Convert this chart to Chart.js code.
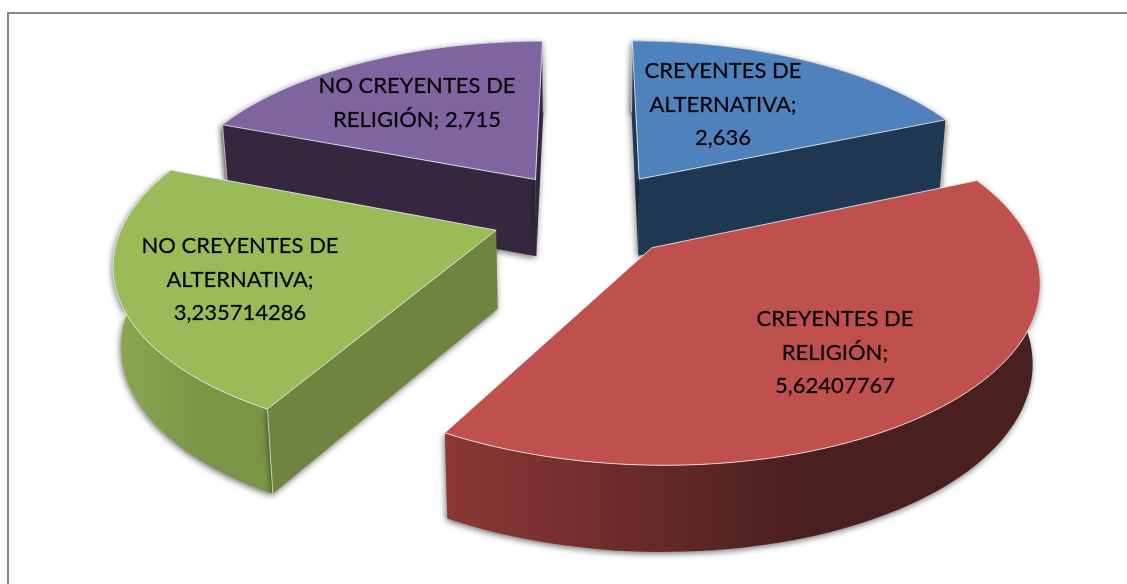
<!DOCTYPE html>
<html lang="es">
<head>
<meta charset="utf-8">
<title>Creyentes</title>
<script src="https://cdn.jsdelivr.net/npm/chart.js@4"></script>
<style>
    html, body { margin: 0; padding: 0; background: #fff; overflow: hidden; }
    #wrap { position: relative; width: 1127px; height: 584px; }
    #frame { position: absolute; left: 7px; top: 12px; width: 1130px; height: 580px; border: 2px solid #868686; box-sizing: border-box; }
    #pie3d { position: absolute; left: 0; top: 0; }
</style>
</head>
<body>
<div id="wrap">
    <div id="frame"></div>
    <canvas id="pie3d" width="1127" height="584"></canvas>
</div>
<script>
// datos del gráfico
const categories = ['CREYENTES DE ALTERNATIVA', 'CREYENTES DE RELIGIÓN', 'NO CREYENTES DE ALTERNATIVA', 'NO CREYENTES DE RELIGIÓN'];
const values = [2.636, 5.62407767, 3.235714286, 2.715];
const topColors = ['#4f81bd', '#c0504d', '#9bbb59', '#8064a2'];
const cutColors = ['#203751', '#4a1f1f', '#6e843f', '#35273f'];
const wallLeft = ['#203751', '#8c3836', '#8aa84f', '#35273f'];
const wallRight = ['#203751', '#4a1f1f', '#7a9546', '#35273f'];

// saltos de línea de cada etiqueta y su centro en pantalla
const labelBreaks = [
    ['CREYENTES DE', 'ALTERNATIVA;', '{v}'],
    ['CREYENTES DE', 'RELIGIÓN;', '{v}'],
    ['NO CREYENTES DE', 'ALTERNATIVA;', '{v}'],
    ['NO CREYENTES DE', 'RELIGIÓN; {v}']
];
const labelCenters = [[723, 71], [835, 319], [240, 246], [417, 86]];
const labelLeading = 33.5;

// proyección del disco (plano u,v) a la pantalla
const VIEW = { cx: 588, cy: 215, rx: 370, ry: 171, persp: 0.16, height: 78, shrink: 0.983 };
const explode = [0.26, 0.25, 0.26, 0.26];

function project(u, v, low) {
    const w = 1 - VIEW.persp * v;
    let x = VIEW.cx + VIEW.rx * u / w;
    let y = VIEW.cy + VIEW.ry * v / w;
    if (low) {
        x = VIEW.cx + (x - VIEW.cx) * VIEW.shrink;
        y += VIEW.height / Math.sqrt(w);
    }
    return [x, y];
}

// geometría de cada porción, sale de los ángulos que calcula Chart.js
function sliceGeom(arc, i) {
    const mid = (arc.startAngle + arc.endAngle) / 2;
    const ox = Math.cos(mid) * explode[i];
    const oy = Math.sin(mid) * explode[i];
    const rim = [];
    const steps = 80;
    for (let n = 0; n <= steps; n++) {
        const a = arc.startAngle + (arc.endAngle - arc.startAngle) * n / steps;
        rim.push([ox + Math.cos(a), oy + Math.sin(a)]);
    }
    return { ox, oy, rim };
}

function tracePoly(ctx, pts) {
    ctx.beginPath();
    pts.forEach((p, i) => i ? ctx.lineTo(p[0], p[1]) : ctx.moveTo(p[0], p[1]));
    ctx.closePath();
}

// una cara de corte se ve solo si la tapa queda al lado contrario de la extrusión
function cutVisible(apex, end, inner) {
    const ex = end[0] - apex[0];
    const ey = end[1] - apex[1];
    const sideDown = ex;
    const sideInner = ex * (inner[1] - apex[1]) - ey * (inner[0] - apex[0]);
    return sideDown * sideInner < 0;
}

function drawSlice(ctx, arc, i) {
    const g = sliceGeom(arc, i);
    const topRim = g.rim.map(p => project(p[0], p[1], false));
    const lowRim = g.rim.map(p => project(p[0], p[1], true));
    const apexTop = project(g.ox, g.oy, false);
    const apexLow = project(g.ox, g.oy, true);
    const last = g.rim.length - 1;
    const midRim = topRim[Math.round(last / 2)];

    ctx.save();
    ctx.shadowColor = 'rgba(0,0,0,0.55)';
    ctx.shadowBlur = 6;
    ctx.shadowOffsetX = -1;
    ctx.shadowOffsetY = 2;

    // pared exterior
    const xs = topRim.map(p => p[0]);
    const minX = Math.min(...xs);
    const grad = ctx.createLinearGradient(minX, 0, minX + (Math.max(...xs) - minX) * 0.6, 0);
    grad.addColorStop(0, wallLeft[i]);
    grad.addColorStop(1, wallRight[i]);
    tracePoly(ctx, topRim.concat(lowRim.slice().reverse()));
    ctx.fillStyle = grad;
    ctx.fill();

    // caras de corte
    ctx.fillStyle = cutColors[i];
    [0, last].forEach(n => {
        if (cutVisible(apexTop, topRim[n], midRim)) {
            tracePoly(ctx, [apexTop, topRim[n], lowRim[n], apexLow]);
            ctx.fill();
        }
    });
    ctx.restore();

    // aristas verticales
    ctx.strokeStyle = 'rgba(235,235,235,0.75)';
    ctx.lineWidth = 1;
    ctx.beginPath();
    [0, last].forEach(n => {
        if (cutVisible(apexTop, topRim[n], midRim)) {
            ctx.moveTo(topRim[n][0], topRim[n][1]);
            ctx.lineTo(lowRim[n][0], lowRim[n][1]);
        }
    });
    ctx.stroke();

    // tapa
    tracePoly(ctx, [apexTop].concat(topRim));
    ctx.fillStyle = topColors[i];
    ctx.fill();
    ctx.strokeStyle = 'rgba(235,235,235,0.85)';
    ctx.stroke();
}

const pie3dPlugin = {
    id: 'pie3d',
    beforeDatasetsDraw(chart) {
        const ctx = chart.ctx;
        const arcs = chart.getDatasetMeta(0).data;
        // de atrás hacia delante
        [0, 3, 2, 1].forEach(i => drawSlice(ctx, arcs[i], i));

        ctx.fillStyle = '#000';
        ctx.strokeStyle = 'rgba(0,0,0,0.5)';
        ctx.lineWidth = 0.4;
        ctx.font = '22px Lato';
        ctx.textAlign = 'center';
        ctx.textBaseline = 'middle';
        labelBreaks.forEach((lines, i) => {
            const shown = String(values[i]).replace('.', ',');
            lines.forEach((line, n) => {
                const text = line.replace('{v}', shown);
                const y = labelCenters[i][1] + n * labelLeading;
                ctx.fillText(text, labelCenters[i][0], y);
                ctx.strokeText(text, labelCenters[i][0], y);
            });
        });
        return false;
    }
};

new Chart(document.getElementById('pie3d').getContext('2d'), {
    type: 'pie',
    data: {
        labels: categories,
        datasets: [{ data: values, backgroundColor: topColors, borderWidth: 0 }]
    },
    options: {
        responsive: false,
        animation: false,
        plugins: { legend: { display: false }, tooltip: { enabled: false } }
    },
    plugins: [pie3dPlugin]
});
</script>
</body>
</html>
